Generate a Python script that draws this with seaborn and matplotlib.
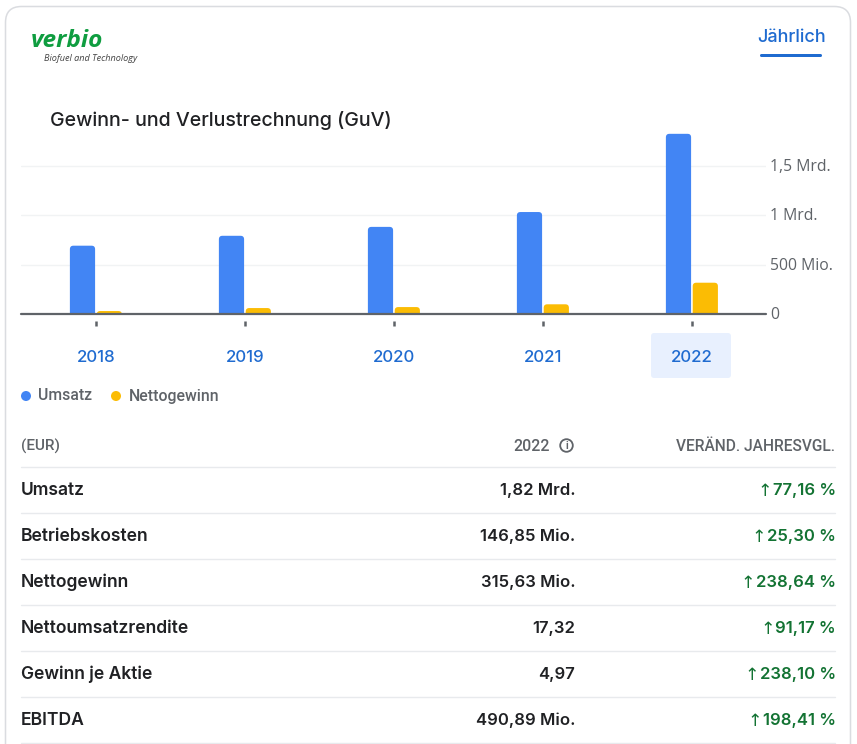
import matplotlib
matplotlib.use("Agg")
import matplotlib.pyplot as plt
from matplotlib.patches import FancyBboxPatch, Circle
from matplotlib.transforms import IdentityTransform
import pandas as pd
import seaborn as sns

years = ["2018", "2019", "2020", "2021", "2022"]
umsatz = [0.69, 0.79, 0.88, 1.03, 1.82]
nettogewinn = [0.03, 0.06, 0.07, 0.098, 0.316]
y_ticks = [0, 0.5, 1.0, 1.5]
y_labels = ["0", "500 Mio.", "1 Mrd.", "1,5 Mrd."]
series_names = ["Umsatz", "Nettogewinn"]
row_names = ["Umsatz", "Betriebskosten", "Nettogewinn", "Nettoumsatzrendite", "Gewinn je Aktie", "EBITDA"]
row_values = ["1,82 Mrd.", "146,85 Mio.", "315,63 Mio.", "17,32", "4,97", "490,89 Mio."]
row_changes = ["77,16 %", "25,30 %", "238,64 %", "91,17 %", "238,10 %", "198,41 %"]

BLUE, YEL = "#4285F4", "#FBBC04"
LINK, GRAY, DARK, GREEN = "#1F6BD0", "#5F6368", "#202124", "#137333"
HEAD = "Inter"
W, H = 857, 744
sns.set_theme(style="white")
plt.rcParams["font.family"] = ["Roboto", "DejaVu Sans"]
fig = plt.figure(figsize=(W / 100, H / 100), dpi=100, facecolor="white")

page = fig.add_axes([0, 0, 1, 1], zorder=0)
page.set_xlim(0, W); page.set_ylim(H, 0); page.axis("off")
page.add_patch(FancyBboxPatch((5.5, 6.5), 845, 800, boxstyle="round,pad=0,rounding_size=16",
                              fc="white", ec="#DADCE0", lw=1.1))

# chart: pixel box x 21..766, zero at y=314, 99 px per unit
top, bottom = 125, 314
ax = fig.add_axes([21.4 / W, 1 - bottom / H, 745 / W, (bottom - top) / H], zorder=2)
ax.patch.set_alpha(0)
df = pd.DataFrame({"Jahr": years * 2, "Wert": umsatz + nettogewinn,
                   "Serie": [series_names[0]] * 5 + [series_names[1]] * 5})
sns.barplot(df, x="Jahr", y="Wert", hue="Serie", palette=[BLUE, YEL], width=0.36, gap=0.06,
            legend=False, ax=ax, zorder=3, saturation=1)
ax.set_xlim(-0.5, 4.5)
ax.set_ylim(0, (bottom - top) / 99)
ax.set_xlabel(""); ax.set_ylabel("")
ax.set_xticks([]); ax.set_yticks([])
sns.despine(ax=ax, left=True, top=True, right=True, bottom=True)
for t, lab in zip(y_ticks, y_labels):
    if t > 0:
        ax.axhline(t, color="#F1F3F4", lw=1, zorder=1)
    ax.text(1.005, t - 0.012, lab, transform=ax.get_yaxis_transform(), va="center", ha="left",
            color=GRAY, fontsize=11.3, family="Open Sans")
ax.axhline(0, color="#5F6368", lw=1.6, zorder=4, clip_on=False)

# round the top corners of the bars seaborn drew
fig.canvas.draw()
for bar in list(ax.patches):
    bb = bar.get_window_extent()
    if bb.width < 1:
        continue
    round_bar = FancyBboxPatch((bb.x0, bb.y0 - 10), bb.width, bb.height + 10,
                               boxstyle="round,pad=0,rounding_size=3.5", transform=IdentityTransform(),
                               fc=bar.get_facecolor(), ec="none", zorder=3)
    ax.add_patch(round_bar)
    round_bar.set_clip_path(ax.patch)
    bar.set_alpha(0)

# x ticks and year labels
page.add_patch(FancyBboxPatch((651, 333), 80, 45, boxstyle="round,pad=0,rounding_size=3",
                              fc="#E8F0FE", ec="none"))
for i, y in enumerate(years):
    px = 95.8 + 149 * i
    page.plot([px, px], [321, 326], color="#5F6368", lw=1.8, solid_capstyle="butt")
    page.text(px, 357, y, ha="center", va="center", color=LINK, fontsize=12.2, family=HEAD, weight="medium")

page.text(50, 120.5, "Gewinn- und Verlustrechnung (GuV)", ha="left", va="center",
          color=DARK, fontsize=14.1, family=HEAD, weight="medium")
# logo
page.text(31, 41, "verbio", ha="left", va="center", color="#0F9D40", fontsize=17.6,
          family="Open Sans", weight="bold", style="italic")
page.text(44, 58.5, "Biofuel and Technology", ha="left", va="center", color="#444444", fontsize=6.6,
          family="Open Sans", style="italic")
# tab
page.text(791.5, 37, "Jährlich", ha="center", va="center", color=LINK, fontsize=13, family=HEAD, weight="medium")
page.add_patch(FancyBboxPatch((760, 54), 62, 3, boxstyle="round,pad=0,rounding_size=1.5", fc=LINK, ec="none"))

# legend
page.add_patch(Circle((26, 396), 5, fc=BLUE, ec="none"))
page.add_patch(Circle((116, 396), 5, fc=YEL, ec="none"))
page.text(38, 396, series_names[0], va="center", color=GRAY, fontsize=11.3, weight="medium")
page.text(129, 396, series_names[1], va="center", color=GRAY, fontsize=11.4, weight="medium")

# table header
page.text(21, 446.5, "(EUR)", va="center", color=GRAY, fontsize=11, weight="medium")
page.text(550, 446.5, "2022", va="center", ha="right", color=GRAY, fontsize=11.4, weight="medium")
page.add_patch(Circle((566.5, 445.5), 6.3, fc="none", ec=GRAY, lw=1.3))
page.text(566.5, 445.6, "i", ha="center", va="center", color=GRAY, fontsize=7.5, weight="bold")
page.text(835, 446.5, "VERÄND. JAHRESVGL.", va="center", ha="right", color=GRAY, fontsize=11.2, weight="medium")

for k in range(7):
    yy = 466.5 + 46 * k
    page.plot([21, 835], [yy, yy], color="#E8EAED", lw=1)
for k, (n, v, c) in enumerate(zip(row_names, row_values, row_changes)):
    yy = 490.3 + 46 * k
    page.text(21, yy, n, va="center", color=DARK, fontsize=12.6, family=HEAD, weight="semibold")
    page.text(575.3, yy, v, va="center", ha="right", color=DARK, fontsize=12, family=HEAD, weight="semibold")
    t = page.text(835.7, yy, c, va="center", ha="right", color=GREEN, fontsize=12, family=HEAD, weight="semibold")
    fig.canvas.draw()
    x0 = t.get_window_extent().x0
    page.text(x0 - 0.5, yy + 0.5, "↑", va="center", ha="right", color=GREEN, fontsize=12.5, family="DejaVu Sans")

fig.savefig("out.png", dpi=100)
